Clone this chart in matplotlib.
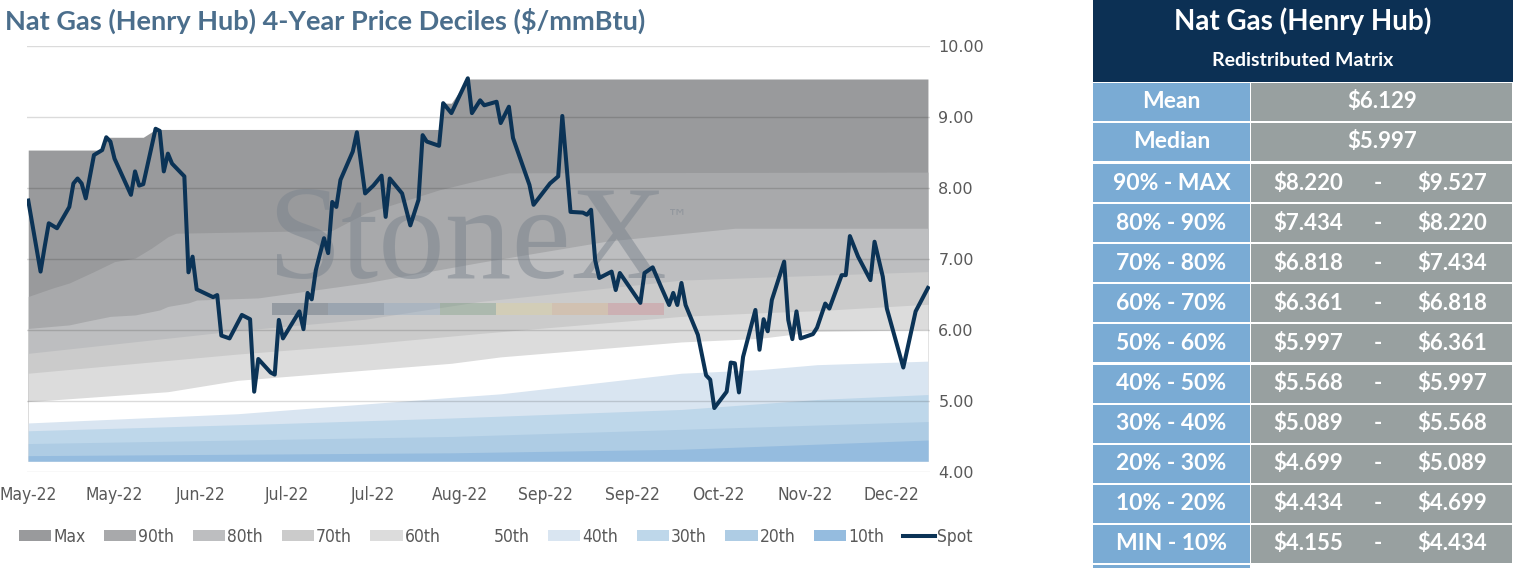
import matplotlib
matplotlib.use("Agg")
import matplotlib.pyplot as plt
from matplotlib.font_manager import FontProperties
from matplotlib.patches import Rectangle, Patch
from matplotlib.lines import Line2D

# ---- data ------------------------------------------------------------------
# spot price, calendar days from the first point
spot_day = [0, 3, 4, 5, 7, 10, 11, 12, 13, 14, 16, 18, 19, 20, 21, 25, 26, 27, 28, 31,
            32, 33, 34, 35, 38, 39, 40, 41, 45, 46, 47, 49, 52, 54, 55, 56, 59, 60, 61, 62,
            66, 67, 68, 69, 70, 72, 73, 74, 75, 76, 79, 80, 82, 84, 86, 87, 88, 90, 91, 93,
            95, 96, 97, 100, 101, 103, 107, 108, 110, 111, 114, 115, 117, 118, 122, 123, 127,
            129, 130, 132, 135, 136, 137, 138, 139, 142, 143, 144, 149, 150, 152, 154, 156,
            157, 158, 159, 160, 163, 165, 166, 167, 170, 171, 172, 173, 174, 177, 178, 179,
            180, 181, 184, 185, 186, 187, 188, 191, 192, 194, 195, 198, 199, 200, 202, 205,
            206, 208, 209, 213, 216, 219]
spot_val = [7.82, 6.82, 7.17, 7.50, 7.43, 7.73, 8.06, 8.13, 8.06, 7.85, 8.46, 8.53, 8.71,
            8.65, 8.41, 7.90, 8.23, 8.03, 8.05, 8.83, 8.80, 8.23, 8.48, 8.34, 8.16, 6.81,
            7.03, 6.57, 6.46, 6.49, 5.92, 5.88, 6.21, 6.15, 5.13, 5.59, 5.40, 5.37, 6.14,
            5.88, 6.26, 6.01, 6.52, 6.43, 6.84, 7.29, 7.08, 7.80, 7.73, 8.11, 8.51, 8.78,
            7.92, 8.03, 8.17, 7.59, 8.13, 7.99, 7.92, 7.47, 7.83, 8.74, 8.65, 8.59, 9.19,
            9.05, 9.54, 9.05, 9.23, 9.16, 9.21, 8.91, 9.14, 8.70, 8.04, 7.76, 8.06, 8.16,
            9.01, 7.66, 7.65, 7.62, 7.69, 6.98, 6.73, 6.82, 6.56, 6.80, 6.38, 6.80, 6.88,
            6.61, 6.35, 6.52, 6.35, 6.66, 6.35, 5.93, 5.36, 5.30, 4.90, 5.13, 5.54, 5.53,
            5.12, 5.62, 6.28, 5.72, 6.15, 5.98, 6.42, 6.96, 6.14, 5.87, 6.26, 5.88, 5.94,
            6.03, 6.37, 6.30, 6.77, 6.77, 7.32, 7.03, 6.70, 7.24, 6.75, 6.30, 5.47, 6.26,
            6.59]

# upper edge of each decile band
max_day = [0, 18, 19, 28, 31, 100, 101, 103, 107, 219]
max_val = [8.53, 8.53, 8.71, 8.71, 8.82, 8.82, 9.19, 9.19, 9.53, 9.53]
p90_day = [0, 6, 10, 16, 21, 26, 30, 34, 36, 74, 82, 100, 117, 219]
p90_val = [6.47, 6.59, 6.66, 6.82, 6.96, 7.01, 7.15, 7.31, 7.36, 7.40, 7.64, 7.97, 8.21, 8.22]
p80_day = [0, 6, 10, 14, 20, 26, 32, 34, 39, 41, 56, 82, 110, 141, 172, 219]
p80_val = [6.02, 6.05, 6.07, 6.12, 6.19, 6.21, 6.28, 6.33, 6.38, 6.42, 6.45, 6.66, 6.95,
           7.25, 7.43, 7.43]
p70_day = [0, 51, 82, 110, 159, 178, 219]
p70_val = [5.67, 5.99, 6.15, 6.40, 6.70, 6.74, 6.82]
p60_day = [0, 51, 82, 110, 159, 178, 192, 219]
p60_val = [5.39, 5.66, 5.80, 5.95, 6.19, 6.24, 6.27, 6.36]
p50_day = [0, 34, 51, 103, 115, 159, 178, 192, 219]
p50_val = [4.99, 5.13, 5.29, 5.53, 5.62, 5.83, 5.88, 5.98, 6.00]
p40_day = [0, 51, 103, 115, 159, 178, 192, 219]
p40_val = [4.69, 4.82, 5.05, 5.10, 5.39, 5.44, 5.51, 5.56]
p30_day = [0, 60, 103, 159, 192, 219]
p30_val = [4.58, 4.68, 4.76, 4.88, 5.02, 5.09]
p20_day = [0, 103, 159, 219]
p20_val = [4.40, 4.50, 4.60, 4.71]
p10_day = [0, 103, 159, 219]
p10_val = [4.23, 4.27, 4.32, 4.45]
min_val = 4.155

band_names = ["Max", "90th", "80th", "70th", "60th", "50th", "40th", "30th", "20th", "10th"]
band_colors = ["#999a9c", "#a8a9ab", "#bdbec0", "#cbcbcb", "#dcdcdc", "#ffffff",
               "#d9e5f1", "#bed7ea", "#aecce4", "#95bcdf"]

tick_labels = ["May-22", "May-22", "Jun-22", "Jul-22", "Jul-22", "Aug-22", "Sep-22",
               "Sep-22", "Oct-22", "Nov-22", "Dec-22"]

# table
row_labels = ["90% - MAX", "80% - 90%", "70% - 80%", "60% - 70%", "50% - 60%",
              "40% - 50%", "30% - 40%", "20% - 30%", "10% - 20%", "MIN - 10%"]
row_low = [8.220, 7.434, 6.818, 6.361, 5.997, 5.568, 5.089, 4.699, 4.434, 4.155]
row_high = [9.527, 8.220, 7.434, 6.818, 6.361, 5.997, 5.568, 5.089, 4.699, 4.434]
mean_val = 6.129
median_val = 5.997

SPOT = "#0b3356"
NAVY = "#0c3054"
NARROW = FontProperties(family="DejaVu Sans", stretch="condensed", size=12.5)

fig = plt.figure(figsize=(15.17, 5.68), dpi=100)
W, H = 1517, 568

# ---- chart ------------------------------------------------------------------
ax = fig.add_axes([27 / W, 1 - 472 / H, 903 / W, 426.4 / H])
bands = [(max_day, max_val), (p90_day, p90_val), (p80_day, p80_val), (p70_day, p70_val),
         (p60_day, p60_val), (p50_day, p50_val), (p40_day, p40_val), (p30_day, p30_val),
         (p20_day, p20_val), (p10_day, p10_val)]
for (d, v), c in zip(bands, band_colors):
    ax.fill_between(d, v, min_val, color=c, lw=0, zorder=1)

ax.plot(spot_day, spot_val, color=SPOT, lw=2.9, solid_joinstyle="round", zorder=5)

ax.set_xlim(-0.3, 219.5)
ax.set_ylim(4, 10)
ax.set_yticks(range(4, 11))
ax.set_yticklabels([f"{v:.2f}" for v in range(4, 11)])
ax.yaxis.tick_right()
ax.tick_params(axis="y", length=0, pad=6, labelsize=11.5, labelcolor="#595959")
ax.set_xticks(range(0, 211, 21))
ax.set_xticklabels(tick_labels, fontproperties=NARROW, color="#595959")
ax.tick_params(axis="x", length=0, pad=10)
ax.grid(axis="y", color="black", alpha=0.14, lw=1.0, zorder=2)
ax.set_axisbelow(False)
for s in ax.spines.values():
    s.set_visible(False)

# watermark
ax.text(0.266, 0.455, "StoneX", transform=ax.transAxes, family="Liberation Serif",
        fontsize=96, color="#7a838d", alpha=0.5, ha="left", va="baseline", zorder=3)
ax.text(0.72, 0.597, "\u2122", transform=ax.transAxes, family="DejaVu Sans",
        fontsize=15, color="#8a9098", alpha=0.7, ha="center", va="center", zorder=3)
wm_colors = ["#2f4257", "#46668a", "#7f9fc0", "#5f8c64", "#e6d486", "#e3a870", "#cf6c78"]
seg_w = (0.705 - 0.271) / len(wm_colors)
for i, c in enumerate(wm_colors):
    ax.add_patch(Rectangle((0.271 + i * seg_w, 0.368), seg_w, 0.028, transform=ax.transAxes,
                           color=c, alpha=0.28, lw=0, zorder=3))

fig.text(5 / W, 1 - 21 / H, "Nat Gas (Henry Hub) 4-Year Price Deciles (\\$/mmBtu)",
         family="Lato", fontweight="bold", fontsize=19.5, color="#4b6e8c",
         ha="left", va="center")

# legend
handles = [Patch(facecolor=c, edgecolor="none", label=n)
           for n, c in zip(band_names, band_colors)]
handles.append(Line2D([], [], color=SPOT, lw=2.9, label="Spot"))
leg = fig.legend(handles=handles, loc="center left", bbox_to_anchor=(19 / W, 1 - 537 / H),
                 ncol=11, frameon=False, borderaxespad=0, borderpad=0,
                 handlelength=1.85, handleheight=0.6, handletextpad=0.12,
                 columnspacing=1.08, prop=NARROW)
for t in leg.get_texts():
    t.set_color("#595959")

# ---- table ------------------------------------------------------------------
tx = fig.add_axes([1093 / W, 0, (1513 - 1093) / W, 1])
tx.set_xlim(0, 420)
tx.set_ylim(H, 0)
tx.axis("off")
BLUE = "#7aabd4"
GREY = "#98a0a0"
col_split = 157
TFONT = dict(family="Lato", fontweight="bold", color="white", ha="center", va="center")

tx.add_patch(Rectangle((0, 0), 420, 82, color=NAVY, lw=0))
tx.text(210, 21, "Nat Gas (Henry Hub)", fontsize=20, **TFONT)
tx.text(210, 61, "Redistributed Matrix", fontsize=14, **TFONT)


def cell_row(top, height, label):
    tx.add_patch(Rectangle((0, top + 1), col_split, height - 2, color=BLUE, lw=0))
    tx.add_patch(Rectangle((col_split + 1, top + 1), 419 - col_split - 1, height - 2,
                           color=GREY, lw=0))
    tx.text(col_split / 2, top + height / 2, label, fontsize=16.5, **TFONT)


for i, (lab, val) in enumerate([("Mean", mean_val), ("Median", median_val)]):
    top = 82 + 40 * i
    cell_row(top, 40, lab)
    tx.text(289, top + 20, f"${val:.3f}", fontsize=16, **TFONT)

for i, (lab, lo, hi) in enumerate(zip(row_labels, row_low, row_high)):
    top = 163 + 40 * i + (1 if i >= 5 else 0)
    cell_row(top, 40, lab)
    tx.text(215, top + 20, f"${lo:.3f}", fontsize=16, **TFONT)
    tx.text(285, top + 20, "-", fontsize=16, **TFONT)
    tx.text(359, top + 20, f"${hi:.3f}", fontsize=16, **TFONT)

tx.add_patch(Rectangle((0, 565), col_split, 5, color=BLUE, lw=0))

fig.savefig("out.png", dpi=100)
